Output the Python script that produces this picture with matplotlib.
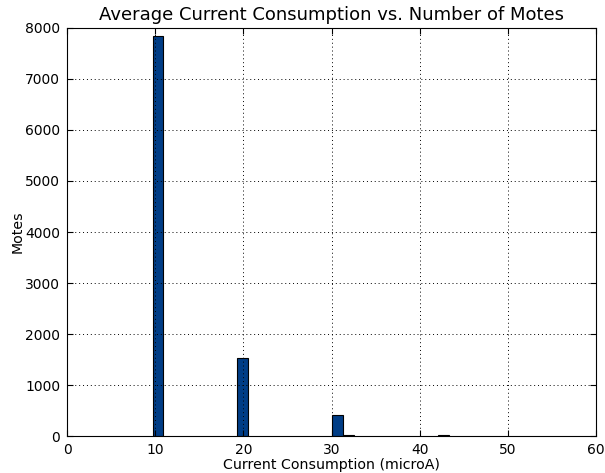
import matplotlib
matplotlib.use('Agg')
from matplotlib import pyplot as plt

# histogram bins (left edge, count) of average current per mote
bin_left = [9.7, 19.3, 30.1, 31.3, 42.1]
counts = [7850, 1530, 420, 20, 15]
bin_width = 1.2

xticks = [0, 10, 20, 30, 40, 50, 60]
yticks = [0, 1000, 2000, 3000, 4000, 5000, 6000, 7000, 8000]

fig = plt.figure(figsize=(6.05, 4.73), dpi=100)
ax = fig.add_axes([0.111, 0.078, 0.874, 0.863])

ax.bar(bin_left, counts, width=bin_width, align='edge',
       color='#003d86', edgecolor='black', linewidth=0.8)

ax.set_xlim(0, 60)
ax.set_ylim(0, 8000)
ax.set_xticks(xticks)
ax.set_yticks(yticks)
ax.tick_params(direction='in', top=True, right=True, length=4, labelsize=10, pad=5)
ax.set_axisbelow(False)
ax.grid(True, linestyle=(0, (1, 3)), color='black', linewidth=0.7)
for s in ax.spines.values():
    s.set_linewidth(0.8)

ax.set_title("Average Current Consumption vs. Number of Motes", fontsize=13, pad=6)
ax.set_xlabel("Current Consumption (microA)", fontsize=10.2, labelpad=1)
ax.set_ylabel("Motes", fontsize=10.2, labelpad=0)

plt.savefig('out.png', dpi=100)
